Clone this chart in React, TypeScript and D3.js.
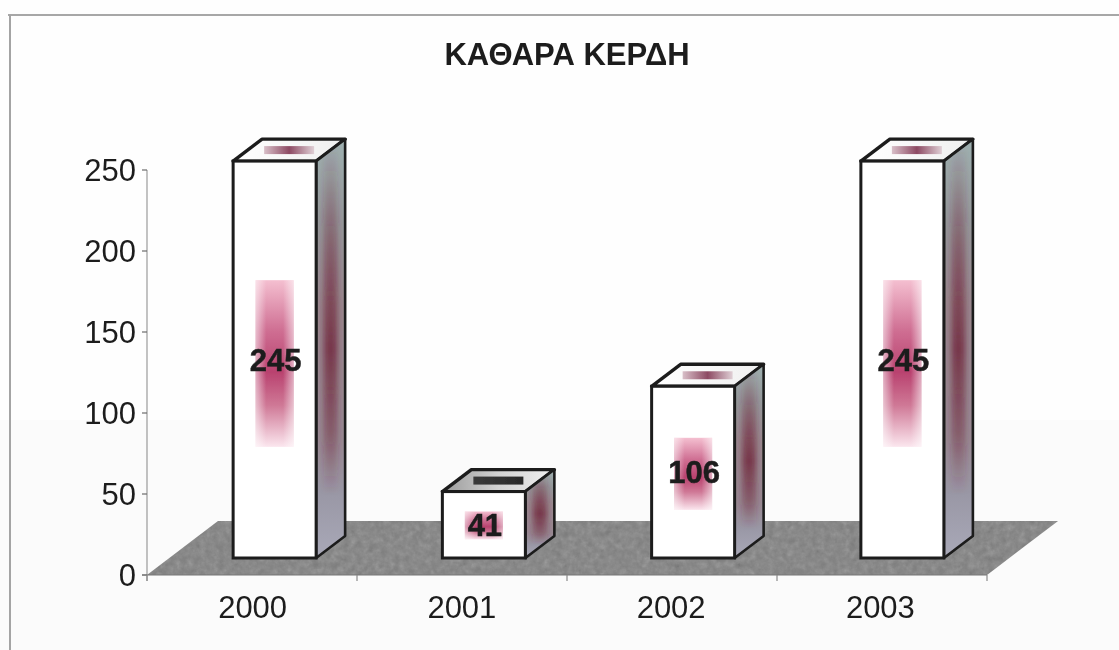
import React from "react";
import * as d3 from "d3";

const title = "ΚΑΘΑΡΑ ΚΕΡΔΗ";
const years = ["2000", "2001", "2002", "2003"];
const profits = [245, 41, 106, 245];
const yTicks = [0, 50, 100, 150, 200, 250];
const topTone = ["url(#topLight)", "url(#topDark)", "url(#topLight)", "url(#topLight)"];
const topStrip = ["url(#stripRose)", "url(#stripDark)", "url(#stripRose)", "url(#stripRose)"];

const WIDTH = 1119;
const HEIGHT = 650;
const FONT = "'Liberation Sans', Arial, sans-serif";
const INK = "#1c1c1c";

const floorFrontY = 575;
const depthFloor = { dx: 71, dy: 54 };
const depthBar = { dx: 29, dy: 22 };
const barLift = 17;
const frontW = 83;

const axisX = d3.scaleBand<string>().domain(years).range([147, 987]);
const x = d3.scaleBand<string>().domain(years).range([147, 984]);
const y = d3.scaleLinear().domain([0, 250]).range([floorFrontY, 170]);
const barBase = floorFrontY - barLift;
const h = (v: number) => floorFrontY - y(v);
const pts = (p: number[][]) => p.map((q) => q.join(",")).join(" ");

export default function App() {
  const x0 = axisX.range()[0];
  const x1 = axisX.range()[1];
  const floor = [
    [x0, floorFrontY],
    [x1, floorFrontY],
    [x1 + depthFloor.dx, floorFrontY - depthFloor.dy],
    [x0 + depthFloor.dx, floorFrontY - depthFloor.dy],
  ];
  return (
    <svg
      width={WIDTH}
      height={HEIGHT}
      viewBox={`0 0 ${WIDTH} ${HEIGHT}`}
      style={{ position: "absolute", left: 0, top: 0, display: "block", background: "#fefefe" }}
    >
      <defs>
        <filter id="soft" x="-2%" y="-2%" width="104%" height="104%">
          <feGaussianBlur stdDeviation="0.55" />
        </filter>
        <filter id="coreBlur" x="-60%" y="-5%" width="220%" height="110%">
          <feGaussianBlur stdDeviation="3 1" />
        </filter>
        <filter id="grain" x="0" y="0" width="100%" height="100%">
          <feTurbulence type="fractalNoise" baseFrequency="0.16" numOctaves="3" seed="4" />
          <feColorMatrix values="0.6 0.6 0 0 -0.1  0.6 0.6 0 0 -0.1  0.6 0.6 0 0 -0.1  0 0 0 1 0" />
        </filter>
        <clipPath id="floorClip">
          <polygon points={pts(floor)} />
        </clipPath>
        <linearGradient id="spot" x1="0" y1="0" x2="0" y2="1">
          <stop offset="0" stopColor="#f4bfd0" />
          <stop offset="0.3" stopColor="#cf6f93" />
          <stop offset="0.55" stopColor="#b9426f" />
          <stop offset="0.75" stopColor="#cf7896" />
          <stop offset="1" stopColor="#fbe6ee" />
        </linearGradient>
        <linearGradient id="spotEdge" x1="0" y1="0" x2="1" y2="0">
          <stop offset="0" stopColor="#ffffff" stopOpacity="0.55" />
          <stop offset="0.28" stopColor="#ffffff" stopOpacity="0" />
          <stop offset="0.72" stopColor="#ffffff" stopOpacity="0" />
          <stop offset="1" stopColor="#ffffff" stopOpacity="0.55" />
        </linearGradient>
        <linearGradient id="side" x1="0" y1="0" x2="0" y2="1">
          <stop offset="0" stopColor="#9fb1b1" />
          <stop offset="0.2" stopColor="#95999c" />
          <stop offset="0.4" stopColor="#9a8a90" />
          <stop offset="0.72" stopColor="#988a94" />
          <stop offset="0.85" stopColor="#9a98a6" />
          <stop offset="1" stopColor="#a9a9b8" />
        </linearGradient>
        <linearGradient id="sideCore" x1="0" y1="0" x2="0" y2="1">
          <stop offset="0" stopColor="#6e2238" stopOpacity="0" />
          <stop offset="0.25" stopColor="#6e2238" stopOpacity="0.45" />
          <stop offset="0.5" stopColor="#6e2238" stopOpacity="0.8" />
          <stop offset="0.7" stopColor="#6e2238" stopOpacity="0.45" />
          <stop offset="0.85" stopColor="#6e2238" stopOpacity="0" />
        </linearGradient>
        <linearGradient id="topLight" x1="0" y1="0" x2="1" y2="0">
          <stop offset="0" stopColor="#ffffff" />
          <stop offset="1" stopColor="#efefef" />
        </linearGradient>
        <linearGradient id="topDark" x1="0" y1="0" x2="1" y2="0">
          <stop offset="0" stopColor="#9a9a9a" />
          <stop offset="0.5" stopColor="#d2d2d2" />
          <stop offset="1" stopColor="#f0f0f0" />
        </linearGradient>
        <linearGradient id="stripRose" x1="0" y1="0" x2="1" y2="0">
          <stop offset="0" stopColor="#d8bfc8" />
          <stop offset="0.5" stopColor="#8d4a63" />
          <stop offset="1" stopColor="#dfcfd5" />
        </linearGradient>
        <linearGradient id="stripDark" x1="0" y1="0" x2="1" y2="0">
          <stop offset="0" stopColor="#3a3a3a" />
          <stop offset="1" stopColor="#2a2a2a" />
        </linearGradient>
      </defs>

      <rect x={0} y={420} width={WIDTH} height={HEIGHT - 420} fill="#fbfbfb" />

      <g filter="url(#soft)">
        <line x1={8} x2={WIDTH} y1={15} y2={15} stroke="#8a8a8a" strokeWidth={1.6} />
        <line x1={10} x2={10} y1={15} y2={HEIGHT} stroke="#a4a4a4" strokeWidth={2} />

        <polygon points={pts(floor)} fill="#7f7f7f" />
        <g clipPath="url(#floorClip)">
          <rect x={x0} y={floorFrontY - depthFloor.dy} width={x1 - x0 + depthFloor.dx} height={depthFloor.dy} filter="url(#grain)" opacity={0.35} />
        </g>

        <line x1={x0} x2={x0} y1={170} y2={581} stroke="#9a9a9a" strokeWidth={1.2} />
        {yTicks.map((t) => (
          <g key={t}>
            <line x1={x0 - 5} x2={x0} y1={y(t)} y2={y(t)} stroke="#6a6a6a" strokeWidth={1.2} />
            <text
              x={x0 - 11}
              y={y(t) + 11}
              textAnchor="end"
              fontFamily={FONT}
              fontSize={31}
              fill={INK}
            >
              {t}
            </text>
          </g>
        ))}
        <line x1={x0 - 5} x2={x1} y1={floorFrontY} y2={floorFrontY} stroke="#777" strokeWidth={1.2} />
        {[...years.map((c) => axisX(c) as number), x1].map((tx) => (
          <line key={tx} x1={tx} x2={tx} y1={floorFrontY} y2={floorFrontY + 6} stroke="#8a8a8a" strokeWidth={1.2} />
        ))}
        {years.map((c) => (
          <text
            key={c}
            x={(x(c) as number) + x.bandwidth() / 2 + 1}
            y={618}
            textAnchor="middle"
            fontFamily={FONT}
            fontSize={31}
            fill={INK}
          >
            {c}
          </text>
        ))}

        {years.map((c, i) => {
          const v = profits[i];
          const left = (x(c) as number) + x.bandwidth() / 2 - frontW / 2 + 23;
          const right = left + frontW;
          const top = barBase - h(v);
          const hh = h(v);
          const { dx, dy } = depthBar;
          const sideId = `sideClip${i}`;
          const stripW = Math.min(38, 22 + hh / 4);
          const sidePts = pts([
            [right, top],
            [right + dx, top - dy],
            [right + dx, barBase - dy],
            [right, barBase],
          ]);
          const topPts = pts([
            [left, top],
            [right, top],
            [right + dx, top - dy],
            [left + dx, top - dy],
          ]);
          return (
            <g key={c}>
              <polygon points={topPts} fill={topTone[i]} />
              <rect
                x={(left + right) / 2 + dx / 2 - (stripW + 12) / 2}
                y={top - dy / 2 - 4}
                width={stripW + 12}
                height={8}
                fill={topStrip[i]}
              />
              <polygon points={topPts} fill="none" stroke={INK} strokeWidth={3.4} strokeLinejoin="round" />
              <clipPath id={sideId}>
                <polygon points={sidePts} />
              </clipPath>
              <polygon points={sidePts} fill="url(#side)" />
              <g clipPath={`url(#${sideId})`}>
                <rect
                  x={right + dx / 2 - 7}
                  y={top - dy}
                  width={14}
                  height={hh + dy}
                  fill="url(#sideCore)"
                  filter="url(#coreBlur)"
                />
              </g>
              <polygon points={sidePts} fill="none" stroke={INK} strokeWidth={2.6} strokeLinejoin="round" />
              <rect x={left} y={top} width={frontW} height={hh} fill="#ffffff" stroke={INK} strokeWidth={3} />
              <rect
                x={(left + right) / 2 - stripW / 2}
                y={top + hh * 0.3}
                width={stripW}
                height={hh * 0.42}
                fill="url(#spot)"
              />
              <rect
                x={(left + right) / 2 - stripW / 2}
                y={top + hh * 0.3}
                width={stripW}
                height={hh * 0.42}
                fill="url(#spotEdge)"
              />
              <text
                x={(left + right) / 2 + 1}
                y={top + hh / 2 + 11}
                textAnchor="middle"
                fontFamily={FONT}
                fontWeight="bold"
                fontSize={31}
                fill={INK}
                stroke={INK}
                strokeWidth={0.5}
              >
                {v}
              </text>
            </g>
          );
        })}

        <text
          x={567}
          y={65}
          textAnchor="middle"
          fontFamily={FONT}
          fontWeight="bold"
          fontSize={31}
          fill={INK}
        >
          {title}
        </text>
      </g>
    </svg>
  );
}
